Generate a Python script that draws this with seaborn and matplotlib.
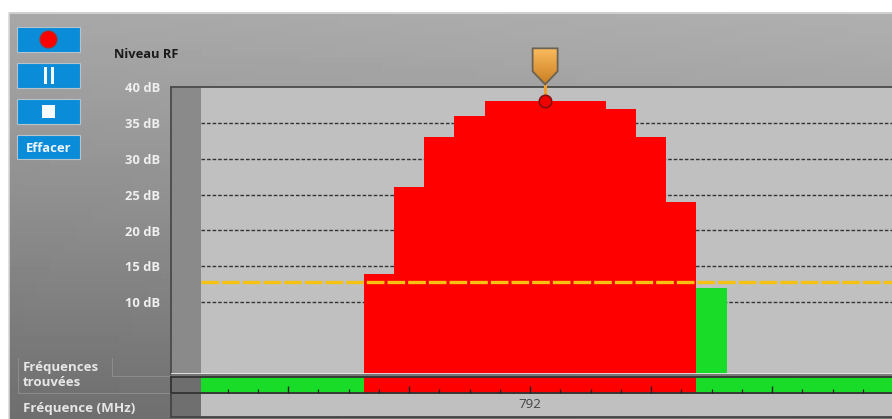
import numpy as np
import pandas as pd
import matplotlib
matplotlib.use("Agg")
import matplotlib.pyplot as plt
from matplotlib.path import Path
from matplotlib.patches import Rectangle, PathPatch, Circle
from matplotlib.colors import LinearSegmentedColormap
import seaborn as sns

# ---------- data ----------
freq_mhz = [790.75, 791.0, 791.25, 791.5, 791.75, 792.0, 792.25, 792.5, 792.75, 793.0, 793.25, 793.5]
level_db = [14, 26, 33, 36, 38, 38, 38, 38, 37, 33, 24, 12]
status = ["over"] * 11 + ["found"]
band_starts = [789.28, 790.628, 793.372]
band_ends = [790.628, 793.372, 795.0]
band_status = ["found", "over", "found"]
threshold_db = 12.8
peak_freq = 792.125
peak_db = 38
grid_levels = [10, 15, 20, 25, 30, 35]
y_labels = ["40 dB", "35 dB", "30 dB", "25 dB", "20 dB", "15 dB", "10 dB"]
y_label_values = [40, 35, 30, 25, 20, 15, 10]
freq_label = "792"
palette = {"over": "#FF0000", "found": "#19DC28"}

W, H = 892, 419
sns.set_theme(style="white")
plt.rcParams["font.family"] = ["Open Sans", "DejaVu Sans"]
fig = plt.figure(figsize=(W / 100, H / 100), dpi=100, facecolor="white")


def px_axes(x0, y0, x1, y1, z):
    return fig.add_axes([x0 / W, 1 - y1 / H, (x1 - x0) / W, (y1 - y0) / H], zorder=z)


# x scale: 121 px per MHz, 792 at pixel 530
x_lo, x_hi = 792 + (171 - 530) / 121, 792 + (892 - 530) / 121
x_strip = 792 + (201 - 530) / 121

# ---------- chrome background ----------
bg = px_axes(0, 0, W, H, 0)
bg.axis("off")
yy, xx = np.mgrid[0:1:64j, 0:1:64j]
grad = 0.655 + 0.03 * xx - 0.225 * yy ** 1.1
bg.imshow(grad, extent=(9, W, 419, 13), cmap="gray", vmin=0, vmax=1, aspect="auto", zorder=1)
bg.set_xlim(0, W); bg.set_ylim(H, 0)
bg.plot([9, 9, W], [H, 13, 13], color="#d8d8d8", lw=1.2, zorder=2)

# buttons
for (y0, y1) in [(27, 52), (63, 88), (99, 124), (135, 159)]:
    bg.add_patch(Rectangle((17, y0 + 1), 64, y1 - y0, fc="#6a6a6a", ec="none", zorder=2))
    bg.add_patch(Rectangle((17, y0), 63, y1 - y0, fc="#0A8CD8", ec="#b5c4cc", lw=0.8, zorder=3))
bg.add_patch(Circle((48.5, 39.5), 8.5, fc="#FF0000", ec="#A83030", lw=0.8, zorder=4))
bg.add_patch(Rectangle((43.5, 67), 3.5, 17, fc="#F4F8FB", ec="none", zorder=4))
bg.add_patch(Rectangle((50.5, 67), 3.5, 17, fc="#F4F8FB", ec="none", zorder=4))
bg.add_patch(Rectangle((42, 105), 13, 13, fc="#F8FBFD", ec="none", zorder=4))
bg.text(49, 148, "Effacer", color="#EEF6FB", fontsize=9.4, fontweight="bold", ha="center", va="center", zorder=4)

bg.text(114, 54, "Niveau RF", color="#1a1a1a", fontsize=9.3, fontweight="bold", ha="left", va="center", zorder=4)
bg.text(23, 367, "Fréquences", color="#E6E6E6", fontsize=9.5, fontweight="bold", ha="left", va="center", zorder=4)
bg.text(23, 382, "trouvées", color="#E6E6E6", fontsize=9.5, fontweight="bold", ha="left", va="center", zorder=4)
bg.text(23, 408, "Fréquence (MHz)", color="#E6E6E6", fontsize=9.6, fontweight="bold", ha="left", va="center", zorder=4)
bg.plot([112, 112, 171], [358, 376, 376], color="#8d8d8d", lw=0.7, zorder=3)
bg.plot([18, 18, 171], [358, 393, 393], color="#8d8d8d", lw=0.7, zorder=3)

# ---------- main chart ----------
ax = px_axes(171, 87, W, 374, 2)
ax.set_facecolor("#C0C0C0")
df = pd.DataFrame({"freq": freq_mhz, "level": level_db, "status": status})
sns.barplot(data=df, x="freq", y="level", hue="status", palette=palette, native_scale=True,
            dodge=False, width=1.0, linewidth=0, saturation=1, legend=False, ax=ax, zorder=3)
for p in ax.patches:
    p.set_antialiased(False)
ax.set_xlim(x_lo, x_hi)
ax.set_ylim(0, 40)
ax.set_xlabel(""); ax.set_ylabel(""); ax.set_xticks([])
ax.set_yticks(y_label_values, y_labels)
ax.tick_params(axis="y", length=0, pad=8, labelsize=9.4, labelcolor="#EFEFEF")
for t in ax.get_yticklabels():
    t.set_fontweight("bold")
ax.hlines(grid_levels, x_strip, x_hi, color="#333333", lw=1.0, linestyles=(0, (2.6, 1.4)), zorder=1)
ax.axvspan(x_lo, x_strip, color="#000000", alpha=0.28, lw=0, zorder=2)
ax.hlines(threshold_db, x_strip, x_hi, color="#F5C211", lw=2.4, linestyles=(0, (5.3, 0.9)), zorder=4)
ax.axhline(0, color="#E8E8E8", lw=2, zorder=5)
for s in ["right", "bottom"]:
    ax.spines[s].set_visible(False)
for s in ["top", "left"]:
    ax.spines[s].set_color("#4a4a4a"); ax.spines[s].set_linewidth(1.3)

# peak marker (anchored on the peak value, offsets in px)
tip_x, tip_y = ax.transData.transform((peak_freq, peak_db))
fx, fy = fig.transFigure.inverted().transform((tip_x, tip_y))
px, py = fx * W, (1 - fy) * H
head = Path([(px - 12.5, py - 53), (px + 12.5, py - 53), (px + 12.5, py - 30), (px, py - 17),
             (px - 12.5, py - 30), (px - 12.5, py - 53)], closed=True)
over = px_axes(0, 0, W, H, 10)
over.axis("off"); over.patch.set_alpha(0)
g = np.linspace(0, 1, 40)[:, None]
cmap = LinearSegmentedColormap.from_list("o", ["#FBBB5E", "#C97F22"])
im = over.imshow(g, extent=(px - 13, px + 13, py - 17, py - 53), cmap=cmap, aspect="auto", zorder=1)
over.set_xlim(0, W); over.set_ylim(H, 0)
pp = PathPatch(head, fc="none", ec="#6B6254", lw=1.3, zorder=2)
over.add_patch(pp)
im.set_clip_path(pp)
over.plot([px, px], [py - 17, py], color="#F0A030", lw=2.2, zorder=1)
over.plot([px], [py], "o", ms=9, mfc="#F00000", mec="#7A1010", mew=1.1, zorder=3)

# ---------- found-frequency strip ----------
sx = px_axes(171, 377, W, 393, 2)
sx.set_facecolor("#6E6E6E")
sx.set_axisbelow(False)
for s0, s1, st in zip(band_starts, band_ends, band_status):
    sx.axvspan(s0, s1, color=palette[st], lw=0)
sx.set_xlim(x_lo, x_hi); sx.set_ylim(0, 1)
sx.set_yticks([])
minor = np.arange(789.5, 795.0, 0.25)
major = np.arange(790.0, 795.0, 1.0)
sx.set_xticks(minor, minor=True)
sx.set_xticks(major)
sx.set_xticklabels([])
sx.tick_params(axis="x", which="minor", direction="in", length=3, width=0.9, color="#222222", bottom=True)
sx.tick_params(axis="x", which="major", direction="in", length=5, width=1.0, color="#222222", bottom=True)
for s in sx.spines.values():
    s.set_visible(False)
for s in ["bottom", "top", "left"]:
    sx.spines[s].set_visible(True); sx.spines[s].set_color("#333333"); sx.spines[s].set_linewidth(1.3)

# ---------- frequency row ----------
fx_ax = px_axes(171, 394, W, 417, 2)
fx_ax.set_facecolor("#C0C0C0")
fx_ax.set_xlim(x_lo, x_hi); fx_ax.set_ylim(0, 1)
fx_ax.axvspan(x_lo, x_strip, color="#000000", alpha=0.42, lw=0)
fx_ax.set_yticks([]); fx_ax.set_xticks([])
fx_ax.text(float(freq_label), 0.55, freq_label, color="#444444", fontsize=9.6, ha="center", va="center")
for s in fx_ax.spines.values():
    s.set_visible(False)
for s in ["bottom", "left"]:
    fx_ax.spines[s].set_visible(True); fx_ax.spines[s].set_color("#444444"); fx_ax.spines[s].set_linewidth(1.3)

fig.savefig("out.png", dpi=100, facecolor="white")
